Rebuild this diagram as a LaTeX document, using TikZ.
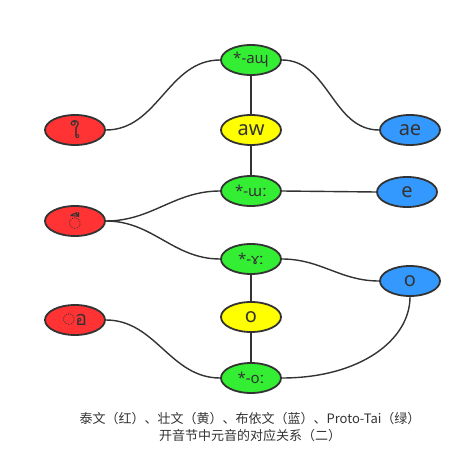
\documentclass[tikz,border=0pt]{standalone}
\usepackage{fontspec}
\setmainfont{Noto Sans}
\newfontfamily\thaifont[Script=Thai]{Loma}
\newfontfamily\cjk{Noto Sans CJK SC}
\usetikzlibrary{shapes.geometric}
\definecolor{lg}{HTML}{333333}
\definecolor{cred}{HTML}{FF3333}
\definecolor{cyel}{HTML}{FFFF00}
\definecolor{cgrn}{HTML}{33EE33}
\definecolor{cblu}{HTML}{3399FF}
\begin{document}
\begin{tikzpicture}[x=1pt,y=1pt,
  vnode/.style={ellipse, draw=lg, line width=1.8pt, minimum width=60pt, minimum height=30pt, inner sep=0pt, text=lg},
  rednode/.style={vnode, fill=cred, font=\thaifont\fontsize{20}{20}\selectfont},
  yelnode/.style={vnode, fill=cyel, font=\fontsize{20}{20}\selectfont},
  grnnode/.style={vnode, fill=cgrn, font=\fontsize{15}{15}\selectfont},
  blunode/.style={vnode, fill=cblu, font=\fontsize{20}{20}\selectfont},
  link/.style={draw=lg, line width=1.4pt},
  caption/.style={font=\cjk\fontsize{13}{17}\selectfont, text=lg, align=center}]
\useasboundingbox (0,0) rectangle (466,-470);
\fill[white] (0,0) rectangle (466,-470);
\node[grnnode] (g1) at (251,-60) {*-aɰ};
\node[yelnode] (y1) at (251,-130) {aw};
\node[grnnode] (g2) at (251,-191) {*-ɯː};
\node[grnnode] (g3) at (251,-259) {*-ɤː};
\node[yelnode] (y2) at (251,-317) {o};
\node[grnnode] (g4) at (251,-378) {*-oː};
\node[rednode] (r1) at (75,-130) {ใ};
\node[rednode] (r2) at (75,-221) {◌ื};
\node[rednode] (r3) at (75,-320) {◌อ};
\node[blunode] (b1) at (410,-130) {ae};
\node[blunode] (b2) at (407,-192) {e};
\node[blunode] (b3) at (410,-281) {o};
\draw[link] (r1.east) to[out=0,in=180] (g1.west);
\draw[link] (g1.east) to[out=0,in=180] (b1.west);
\draw[link] (g1.south) -- (y1.north);
\draw[link] (y1.south) -- (g2.north);
\draw[link] (g2.east) -- (b2.west);
\draw[link] (r2.east) to[out=0,in=180] (g2.west);
\draw[link] (r2.east) to[out=0,in=180] (g3.west);
\draw[link] (g3.east) to[out=0,in=180] (b3.west);
\draw[link] (g3.south) -- (y2.north);
\draw[link] (y2.south) -- (g4.north);
\draw[link] (r3.east) to[out=0,in=180] (g4.west);
\draw[link] (g4.east) .. controls (360,-378) and (410,-340) .. (b3.south);
\node[caption] (cap) at (250,-427) {泰文（红）、壮文（黄）、布依文（蓝）、Proto-Tai（绿）\\开音节中元音的对应关系（二）};
\end{tikzpicture}
\end{document}
